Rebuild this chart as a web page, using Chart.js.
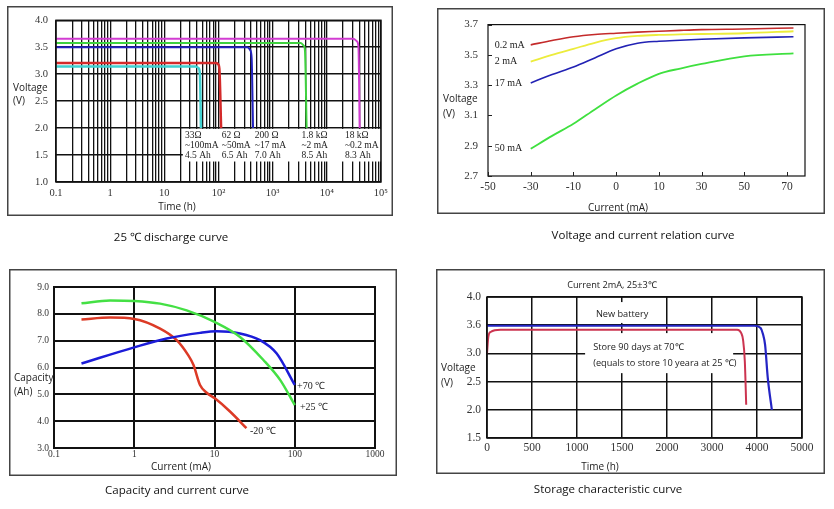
<!DOCTYPE html>
<html>
<head>
<meta charset="utf-8">
<script src="https://cdn.jsdelivr.net/npm/chart.js@4.4.1/dist/chart.umd.min.js"></script>
<style>
  body { margin: 0; background: #fff; width: 834px; height: 509px; position: relative; overflow: hidden; }
  canvas { position: absolute; }
  .t { position: absolute; white-space: nowrap; font-family: 'Open Sans', sans-serif; font-size: 10px; line-height: 1; color: #222; transform: translateY(-50%); }
  .c { transform: translate(-50%, -50%); }
  .cap { font-size: 11.5px; color: #111; }
</style>
</head>
<body>
<canvas id="dischargeChart" width="386" height="210" style="left:7px;top:6px"></canvas>
<canvas id="relationChart" width="388" height="206" style="left:437px;top:8px"></canvas>
<canvas id="capacityChart" width="388" height="207" style="left:9px;top:269px"></canvas>
<canvas id="storageChart" width="389" height="205" style="left:436px;top:269px"></canvas>

<div class="t" style="left:13px;top:87px">Voltage</div>
<div class="t" style="left:13px;top:100px">(V)</div>
<div class="t c" style="left:177px;top:206px">Time (h)</div>
<div class="t c cap" style="left:171px;top:237px">25 ℃ discharge curve</div>

<div class="t" style="left:443px;top:98px">Voltage</div>
<div class="t" style="left:443px;top:113px">(V)</div>
<div class="t c" style="left:618px;top:207px">Current (mA)</div>
<div class="t c cap" style="left:643px;top:235px">Voltage and current relation curve</div>

<div class="t" style="left:14px;top:377px">Capacity</div>
<div class="t" style="left:14px;top:391px">(Ah)</div>
<div class="t c" style="left:181px;top:466px">Current (mA)</div>
<div class="t c cap" style="left:177px;top:490px">Capacity and current curve</div>

<div class="t c" style="left:612px;top:285px;font-size:9.2px">Current 2mA, 25±3℃</div>
<div class="t" style="left:441px;top:367px">Voltage</div>
<div class="t" style="left:441px;top:382px">(V)</div>
<div class="t c" style="left:600px;top:466px">Time (h)</div>
<div class="t c cap" style="left:608px;top:489px">Storage characteristic curve</div>

<script>
// ---- 25 C discharge curve (time in h, voltage in V)
const decades1 = [0.1, 1, 10, 100, 1000, 10000, 100000];
const timeLabels1 = ['0.1', '1', '10', '10²', '10³', '10⁴', '10⁵'];
const voltLabels1 = ['1.0', '1.5', '2.0', '2.5', '3.0', '3.5', '4.0'];
const t33 = [0.1, 38, 43, 45.5, 47.5];
const v33 = [3.145, 3.145, 3.11, 3.0, 2.0];
const t62 = [0.1, 90, 98, 104, 112];
const v62 = [3.21, 3.21, 3.19, 3.1, 2.0];
const t200 = [0.1, 340, 385, 410, 435];
const v200 = [3.5, 3.5, 3.45, 3.3, 2.0];
const t1k8 = [0.1, 3300, 3750, 3950, 4250];
const v1k8 = [3.58, 3.58, 3.53, 3.45, 2.0];
const t18k = [0.1, 31000, 36000, 38500, 40500];
const v18k = [3.66, 3.66, 3.61, 3.5, 2.0];
const loadNotes = [
  ['33Ω', '~100mA', '4.5 Ah'],
  ['62 Ω', '~50mA', '6.5 Ah'],
  ['200 Ω', '~17 mA', '7.0 Ah'],
  ['1.8 kΩ', '~2 mA', '8.5 Ah'],
  ['18 kΩ', '~0.2 mA', '8.3 Ah']
];
const loadNoteX = [24, 115, 470, 3400, 21600];
const loadNoteY = [1.855, 1.673, 1.491];

// ---- voltage / current relation (x in tick steps)
const currentLabels2 = ['-50', '-30', '-10', '0', '10', '30', '50', '70'];
const voltLabels2 = ['2.7', '2.9', '3.1', '3.3', '3.5', '3.7'];
const step2 = [1, 1.5, 2, 2.5, 3, 3.5, 4, 4.5, 5, 6, 7.15];
const v02mA = [3.566, 3.595, 3.62, 3.635, 3.643, 3.65, 3.656, 3.662, 3.667, 3.671, 3.678];
const v2mA = [3.456, 3.5, 3.54, 3.58, 3.61, 3.625, 3.632, 3.636, 3.638, 3.643, 3.656];
const v17mA = [3.315, 3.37, 3.42, 3.48, 3.54, 3.577, 3.59, 3.597, 3.603, 3.612, 3.62];
const v50mA = [2.88, 2.965, 3.045, 3.14, 3.232, 3.31, 3.375, 3.41, 3.44, 3.49, 3.51];
const seriesNames2 = ['0.2 mA', '2 mA', '17 mA', '50 mA'];

// ---- capacity / current
const decades3 = [0.1, 1, 10, 100, 1000];
const currentLabels3 = ['0.1', '1', '10', '100', '1000'];
const capLabels3 = ['3.0', '4.0', '5.0', '6.0', '7.0', '8.0', '9.0'];
const i25 = [0.22, 0.5, 1, 2.1, 4.5, 10, 20.8, 40.7, 66, 100];
const c25 = [8.39, 8.5, 8.48, 8.38, 8.13, 7.7, 7.14, 6.28, 5.53, 4.6];
const i70 = [0.22, 1, 2.54, 6.6, 10.6, 20.8, 36.9, 59.6, 100];
const c70 = [6.15, 6.75, 7.08, 7.29, 7.35, 7.27, 7.02, 6.52, 5.35];
const iM20 = [0.22, 0.5, 1, 2.1, 3.38, 4.72, 5.46, 6.6, 8.0, 10.1, 15.6, 25];
const cM20 = [7.79, 7.86, 7.81, 7.45, 7.02, 6.45, 6.1, 5.35, 5.06, 4.85, 4.36, 3.74];
const tempNames3 = ['+70 ℃', '+25 ℃', '-20 ℃'];
const tempNoteX = [107, 116, 27.7];
const tempNoteY = [5.31, 4.52, 3.63];

// ---- storage characteristic (x in tick steps)
const timeLabels4 = ['0', '500', '1000', '1500', '2000', '3000', '4000', '5000'];
const voltLabels4 = ['1.5', '2.0', '2.5', '3.0', '3.6', '4.0'];
const stepNew = [0, 5.95, 6.08, 6.13, 6.18, 6.24, 6.33];
const vNew = [3.49, 3.49, 3.45, 3.35, 3.15, 2.56, 2.0];
const stepStored = [0, 0.03, 0.08, 0.3, 5.56, 5.65, 5.69, 5.73, 5.76];
const vStored = [3.0, 3.3, 3.38, 3.42, 3.42, 3.36, 3.24, 2.85, 2.09];

Chart.defaults.animation = false;
Chart.defaults.responsive = false;
Chart.defaults.plugins.legend.display = false;
Chart.defaults.plugins.tooltip.enabled = false;
Chart.defaults.elements.point.radius = 0;
Chart.defaults.color = '#333';
const serif = "'Liberation Serif', 'Times New Roman', serif";
const sans = "'Open Sans', sans-serif";

function pts(xs, ys) {
  return xs.map((x, i) => ({ x: x, y: ys[i] }));
}
// fixed axis thickness so the plot area lands where it is in the picture
function fit(size) {
  return s => { if (s.isHorizontal()) s.height = size; else s.width = size; };
}
function line(xs, ys, color, width) {
  return { data: pts(xs, ys), borderColor: color, borderWidth: width, fill: false, cubicInterpolationMode: 'monotone' };
}

// outer frame + plot box
Chart.register({
  id: 'frame',
  defaults: { area: 1.5 },
  afterDraw(chart, args, opts) {
    const { ctx, chartArea: a, width, height } = chart;
    ctx.save();
    ctx.strokeStyle = '#444';
    ctx.lineWidth = 1.5;
    ctx.strokeRect(0.75, 0.75, width - 1.5, height - 1.5);
    ctx.strokeStyle = '#111';
    ctx.lineWidth = opts.area;
    ctx.strokeRect(a.left, a.top, a.right - a.left, a.bottom - a.top);
    ctx.restore();
  }
});

// white boxes (behind the curves) and text notes (over them)
function notes(boxes, texts) {
  return {
    id: 'notes',
    beforeDatasetsDraw(chart) {
      const { ctx, scales: { x, y } } = chart;
      ctx.save();
      ctx.fillStyle = '#fff';
      boxes.forEach(b => {
        const x0 = x.getPixelForValue(b.x0), x1 = x.getPixelForValue(b.x1);
        const y0 = y.getPixelForValue(b.y0), y1 = y.getPixelForValue(b.y1);
        ctx.fillRect(x0, y0, x1 - x0, y1 - y0);
      });
      ctx.restore();
    },
    afterDatasetsDraw(chart) {
      const { ctx, scales: { x, y } } = chart;
      ctx.save();
      ctx.textBaseline = 'middle';
      ctx.textAlign = 'left';
      texts.forEach(t => {
        ctx.font = t.font;
        ctx.fillStyle = t.color || '#222';
        ctx.fillText(t.text, x.getPixelForValue(t.x), y.getPixelForValue(t.y));
      });
      ctx.restore();
    }
  };
}

// ---------- chart 1
const grid1 = [];
for (let e = -1; e < 5; e++) {
  for (let m = 1; m < 10; m++) grid1.push(m * Math.pow(10, e));
}
grid1.push(100000);

const texts1 = [];
loadNotes.forEach((rows, c) => rows.forEach((txt, r) => {
  texts1.push({ text: txt, x: loadNoteX[c], y: loadNoteY[r], font: '9.5px ' + serif });
}));

new Chart(document.getElementById('dischargeChart'), {
  type: 'line',
  data: {
    datasets: [
      line(t18k, v18k, '#d23cd2', 2),
      line(t1k8, v1k8, '#3fd23f', 2),
      line(t200, v200, '#2323c0', 2),
      line(t62, v62, '#d42a2a', 2.5),
      line(t33, v33, '#3fd0d0', 2.5)
    ]
  },
  options: {
    layout: { padding: { left: 0, right: 12, top: 11, bottom: 0 } },
    scales: {
      x: {
        type: 'logarithmic',
        min: 0.1,
        max: 100000,
        afterFit: fit(34),
        afterBuildTicks: s => { s.ticks = grid1.map(v => ({ value: v })); },
        grid: { color: '#111', lineWidth: 1.3, drawTicks: false },
        border: { display: false },
        ticks: {
          autoSkip: false,
          maxRotation: 0,
          padding: 5,
          font: { family: serif, size: 10.5 },
          callback: v => {
            const i = decades1.findIndex(d => Math.abs(d - v) / d < 1e-6);
            return i >= 0 ? timeLabels1[i] : '';
          }
        }
      },
      y: {
        min: 1,
        max: 4,
        afterFit: fit(49),
        grid: { color: '#111', lineWidth: 1.5, drawTicks: false },
        border: { display: false },
        ticks: { stepSize: 0.5, padding: 8, font: { family: serif, size: 10.5 }, callback: (v, i) => voltLabels1[i] }
      }
    }
  },
  plugins: [notes([{ x0: 22, x1: 100000, y0: 1.985, y1: 1.38 }], texts1)]
});

// ---------- chart 2
const texts2 = [v02mA, v2mA, v17mA, v50mA].map((vals, i) => ({
  text: seriesNames2[i], x: 0.16, y: vals[0], font: '10px ' + serif
}));

new Chart(document.getElementById('relationChart'), {
  type: 'line',
  data: {
    datasets: [
      line(step2, v02mA, '#c42a2a', 1.6),
      line(step2, v2mA, '#ecec3c', 1.8),
      line(step2, v17mA, '#2222b4', 1.6),
      line(step2, v50mA, '#3fe03f', 1.8)
    ]
  },
  options: {
    layout: { padding: { left: 0, right: 20, top: 16, bottom: 0 } },
    plugins: { frame: { area: 1.2 } },
    scales: {
      x: {
        type: 'linear',
        min: 0,
        max: 7.42,
        afterFit: fit(38),
        afterBuildTicks: s => { s.ticks = currentLabels2.map((_, i) => ({ value: i })); },
        grid: { display: false, drawTicks: false },
        border: { display: false },
        ticks: { padding: 4, maxRotation: 0, font: { family: serif, size: 11.5 }, callback: (v, i) => currentLabels2[i] }
      },
      y: {
        min: 2.7,
        max: 3.7,
        afterFit: fit(51),
        grid: { display: false, drawTicks: false },
        border: { display: false },
        ticks: {
          stepSize: 0.1,
          padding: 10,
          font: { family: serif, size: 11 },
          callback: v => voltLabels2.includes(v.toFixed(1)) ? v.toFixed(1) : ''
        }
      }
    }
  },
  plugins: [notes([], texts2), {
    id: 'innerTicks',
    afterDraw(chart) {
      const { ctx, chartArea: a, scales: { x, y } } = chart;
      ctx.save();
      ctx.strokeStyle = '#222';
      ctx.lineWidth = 1;
      ctx.beginPath();
      y.ticks.forEach(t => {
        const py = Math.round(y.getPixelForValue(t.value)) + 0.5;
        ctx.moveTo(a.left, py);
        ctx.lineTo(a.left + 4, py);
      });
      x.ticks.forEach(t => {
        const px = Math.round(x.getPixelForValue(t.value)) + 0.5;
        ctx.moveTo(px, a.bottom);
        ctx.lineTo(px, a.bottom - 4);
      });
      ctx.stroke();
      ctx.restore();
    }
  }]
});

// ---------- chart 3
const texts3 = tempNames3.map((n, i) => ({ text: n, x: tempNoteX[i], y: tempNoteY[i], font: '10px ' + serif }));

new Chart(document.getElementById('capacityChart'), {
  type: 'line',
  data: {
    datasets: [
      line(i25, c25, '#44e044', 2.5),
      line(i70, c70, '#1c1cd8', 2.5),
      line(iM20, cM20, '#dc3a26', 2.5)
    ]
  },
  options: {
    layout: { padding: { left: 0, right: 22, top: 18, bottom: 0 } },
    plugins: { frame: { area: 2 } },
    scales: {
      x: {
        type: 'logarithmic',
        min: 0.1,
        max: 1000,
        afterFit: fit(28),
        afterBuildTicks: s => { s.ticks = decades3.map(v => ({ value: v })); },
        grid: { color: '#111', lineWidth: 2, drawTicks: false },
        border: { display: false },
        ticks: { autoSkip: false, maxRotation: 0, padding: 1, font: { family: serif, size: 9.5 }, callback: (v, i) => currentLabels3[i] }
      },
      y: {
        min: 3,
        max: 9,
        afterFit: fit(45),
        grid: { color: '#111', lineWidth: 2, drawTicks: false },
        border: { display: false },
        ticks: { stepSize: 1, padding: 5, font: { family: serif, size: 9.5 }, callback: (v, i) => capLabels3[i] }
      }
    }
  },
  plugins: [notes([], texts3)]
});

// ---------- chart 4
const texts4 = [
  { text: 'New battery', x: 2.42, y: 3.70, font: '9.2px ' + sans },
  { text: 'Store 90 days at 70℃', x: 2.36, y: 3.10, font: '9.2px ' + sans },
  { text: '(equals to store 10 yeara at 25 ℃)', x: 2.36, y: 2.83, font: '9.2px ' + sans }
];

new Chart(document.getElementById('storageChart'), {
  type: 'line',
  data: {
    datasets: [
      line(stepNew, vNew, '#2424c4', 2.2),
      line(stepStored, vStored, '#cc3450', 2)
    ]
  },
  options: {
    layout: { padding: { left: 0, right: 23, top: 28, bottom: 0 } },
    scales: {
      x: {
        type: 'linear',
        min: 0,
        max: 7,
        afterFit: fit(36),
        afterBuildTicks: s => { s.ticks = timeLabels4.map((_, i) => ({ value: i })); },
        grid: { color: '#111', lineWidth: 1.5, drawTicks: false },
        border: { display: false },
        ticks: { padding: 3, maxRotation: 0, font: { family: serif, size: 11.5 }, callback: (v, i) => timeLabels4[i] }
      },
      y: {
        min: 1.5,
        max: 4,
        afterFit: fit(51),
        grid: { color: '#111', lineWidth: 1.5, drawTicks: false },
        border: { display: false },
        ticks: { stepSize: 0.5, padding: 6, font: { family: serif, size: 11.5 }, callback: (v, i) => voltLabels4[i] }
      }
    }
  },
  plugins: [notes([
    { x0: 2.24, x1: 3.73, y0: 3.91, y1: 3.54 },
    { x0: 2.18, x1: 5.47, y0: 3.36, y1: 2.65 }
  ], texts4)]
});
</script>
</body>
</html>
